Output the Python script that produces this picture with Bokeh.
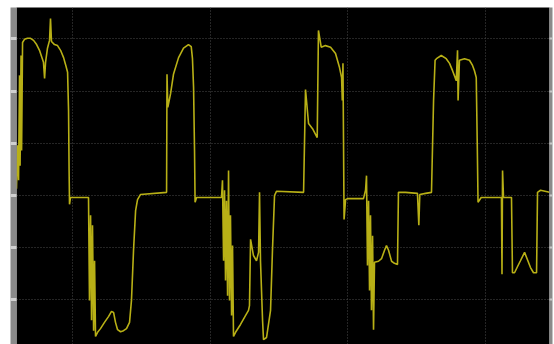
from bokeh.plotting import figure
from bokeh.models import FixedTicker, CustomJSTickFormatter, Range1d, LinearAxis
from bokeh.embed import file_html
from bokeh.resources import INLINE

# time (divisions) and signal amplitude (divisions)
t = [0.593, 0.601, 0.608, 0.615, 0.619, 0.626, 0.630, 0.637,
     0.651, 0.673, 0.695, 0.717, 0.739, 0.760, 0.775, 0.789, 0.797, 0.804, 0.818, 0.833,
     0.840, 0.847, 0.869, 0.891, 0.913, 0.935, 0.949, 0.964, 0.971, 0.975, 0.978, 0.985, 1.116,
     1.123, 1.131, 1.138, 1.145, 1.153, 1.160, 1.167, 1.182, 1.203, 1.232, 1.261, 1.283,
     1.298, 1.312, 1.327, 1.349, 1.370, 1.392, 1.414, 1.428, 1.443, 1.458, 1.472, 1.494, 1.683,
     1.686, 1.692, 1.712, 1.733, 1.770, 1.806, 1.842, 1.862, 1.871, 1.879, 1.886, 1.890,
     1.901, 2.082,
     2.089, 2.097, 2.104, 2.111, 2.118, 2.126, 2.133, 2.140, 2.147, 2.155, 2.162, 2.169,
     2.184, 2.220, 2.256, 2.278, 2.285, 2.293, 2.314, 2.336, 2.351, 2.358, 2.365, 2.380,
     2.387, 2.409, 2.438, 2.452, 2.467, 2.481, 2.678,
     2.692, 2.714, 2.743, 2.777, 2.786, 2.806, 2.837, 2.874, 2.910, 2.939, 2.954, 2.959,
     2.964, 2.968, 2.972, 2.983, 2.997, 3.113,
     3.128, 3.135, 3.142, 3.150, 3.157, 3.164, 3.171, 3.179, 3.186, 3.193, 3.222, 3.244,
     3.266, 3.280, 3.295, 3.317, 3.338, 3.360, 3.367, 3.418, 3.505, 3.515, 3.522, 3.564, 3.607,
     3.622, 3.633, 3.643, 3.678, 3.714, 3.738, 3.760, 3.787, 3.796, 3.800, 3.810, 3.847,
     3.883, 3.905, 3.919, 3.932, 3.939, 3.945, 3.968, 4.115,
     4.119, 4.123, 4.130, 4.188, 4.195, 4.210, 4.232, 4.253, 4.283, 4.304, 4.326, 4.348,
     4.370, 4.377, 4.399, 4.464]

v = [0.13, 0.96, 0.29, 2.30, 0.57, 2.68, 0.86, 2.93,
     2.99, 3.01, 3.01, 2.97, 2.89, 2.78, 2.66, 2.55, 2.24, 2.55, 2.82, 2.97,
     3.39, 2.95, 2.89, 2.87, 2.78, 2.64, 2.51, 2.36, 1.63, 0.48, -0.17, -0.04, -0.04,
     -2.01, -0.38, -2.39, -0.57, -2.59, -1.25, -2.70, -2.62, -2.55, -2.43, -2.32, -2.22,
     -2.24, -2.43, -2.57, -2.61, -2.59, -2.55, -2.43, -2.01, -1.05, -0.29, -0.08, 0.02, 0.06,
     2.32, 1.69, 1.95, 2.32, 2.64, 2.82, 2.89, 2.85, 2.62, 2.07, 0.86, -0.13,
     -0.04, -0.04,
     0.29, -1.25, 0.10, -1.63, -0.10, -1.92, 0.48, -2.01, -0.38, -2.30, -0.96, -2.70,
     -2.62, -2.47, -2.30, -2.20, -2.11, -0.84, -1.15, -1.25, -1.09, 0.06, -1.25, -2.39,
     -2.76, -2.72, -2.20, -1.05, 0.00, 0.08, 0.06,
     2.03, 1.38, 1.28, 1.11, 3.16, 2.84, 2.87, 2.84, 2.72, 2.45, 2.26, 1.82,
     2.53, 1.05, -0.46, -0.08, -0.06, -0.06,
     0.10, 0.38, -1.34, -0.10, -1.82, -0.38, -2.20, -0.77, -2.57, -1.28, -1.26, -1.21,
     -1.05, -0.96, -1.05, -1.26, -1.30, -1.32, 0.06, 0.06, 0.04, -0.57, 0.02, 0.04, 0.06,
     1.82, 2.59, 2.62, 2.68, 2.62, 2.53, 2.39, 2.20, 2.78, 1.82, 2.59, 2.62,
     2.59, 2.49, 2.39, 2.26, 1.05, -0.13, -0.04, -0.04,
     -1.51, 0.48, -0.04, -0.04, -1.48, -1.48, -1.36, -1.25, -1.09, -1.23, -1.38, -1.48,
     -1.48, 0.06, 0.10, 0.06]

grid_t = [1, 2, 3, 4]
grid_v = [-2, -1, 0, 1, 2, 3]

p = figure(width=554, height=344, output_backend="svg", toolbar_location=None,
           x_range=Range1d(0.593, 4.464), y_range=Range1d(-2.854, 3.60),
           background_fill_color="#000000", border_fill_color="#ffffff",
           min_border_left=16, min_border_right=5, min_border_top=7, min_border_bottom=0,
           outline_line_color=None, y_axis_location=None)

p.xaxis.visible = False

left = LinearAxis(ticker=FixedTicker(ticks=grid_v),
                  formatter=CustomJSTickFormatter(code="return ''"),
                  axis_line_color=None, major_tick_in=0, major_tick_out=6,
                  major_tick_line_color="#d0d0d0", major_tick_line_width=3,
                  minor_tick_line_color=None, major_label_standoff=0,
                  major_label_text_font_size="1px",
                  background_fill_color="#8a8a8a")
p.add_layout(left, "left")

right = LinearAxis(ticker=FixedTicker(ticks=grid_v),
                   formatter=CustomJSTickFormatter(code="return ''"),
                   axis_line_color=None, major_tick_in=0, major_tick_out=3,
                   major_tick_line_color="#c8c8c8", major_tick_line_width=2,
                   minor_tick_line_color=None, major_label_standoff=0,
                   major_label_text_font_size="1px",
                   background_fill_color="#8a8a8a")
p.add_layout(right, "right")

p.xgrid.ticker = FixedTicker(ticks=grid_t)
p.ygrid.ticker = FixedTicker(ticks=grid_v)
for g in (p.xgrid, p.ygrid):
    g.grid_line_color = "#4a4a4a"
    g.grid_line_dash = "1 2"
    g.grid_line_width = 1

p.line(t, v, line_color="#b8b016", line_width=1.6)

open("out.html", "w").write(file_html(p, INLINE))
